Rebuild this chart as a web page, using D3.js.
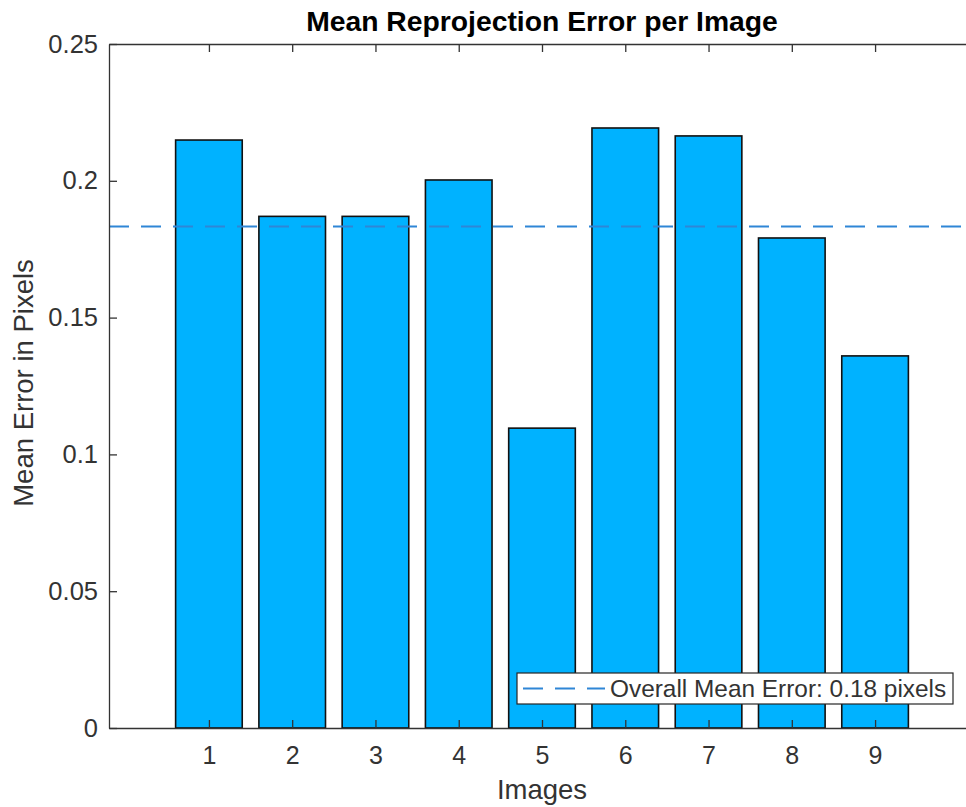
<!DOCTYPE html>
<html>
<head>
<meta charset="utf-8">
<script src="https://cdn.jsdelivr.net/npm/d3@7"></script>
<style>
  html, body { margin: 0; padding: 0; background: #fff; }
  svg { display: block; }
  text { font-family: "Liberation Sans", Arial, Helvetica, sans-serif; }
</style>
</head>
<body>
<svg id="chart" width="966" height="807"></svg>
<script>
// ---- data ----
const images = [1, 2, 3, 4, 5, 6, 7, 8, 9];
const meanErrors = [0.2149, 0.1870, 0.1870, 0.2003, 0.1096, 0.2193, 0.2164, 0.1791, 0.1360];
const overallMean = 0.1833;
const yTicks = [0, 0.05, 0.1, 0.15, 0.2, 0.25];
const yTickLabels = ["0", "0.05", "0.1", "0.15", "0.2", "0.25"];
const xDomain = [-0.2, 10.2];
const yDomain = [0, 0.25];
const titleText = "Mean Reprojection Error per Image";
const xLabelText = "Images";
const yLabelText = "Mean Error in Pixels";
const legendText = "Overall Mean Error: 0.18 pixels";

// ---- layout ----
const plotLeft = 109, plotRight = 975, plotTop = 44, plotBottom = 728;
const axisColor = "#333333";
const barColor = "#00B2FF";
const lineColor = "#2f86d6";

const svg = d3.select("#chart");
svg.append("rect").attr("width", 966).attr("height", 807).attr("fill", "#fff");

const x = d3.scaleLinear().domain(xDomain).range([plotLeft, plotRight]);
const y = d3.scaleLinear().domain(yDomain).range([plotBottom, plotTop]);
const barW = x(0.8) - x(0);

// bars
svg.append("g").selectAll("rect").data(images).join("rect")
  .attr("x", d => x(d) - barW / 2)
  .attr("y", (d, i) => y(meanErrors[i]))
  .attr("width", barW)
  .attr("height", (d, i) => y(0) - y(meanErrors[i]))
  .attr("fill", barColor)
  .attr("stroke", "#111")
  .attr("stroke-width", 1.6);

// mean line
svg.append("line")
  .attr("x1", x(xDomain[0])).attr("x2", x(xDomain[1]))
  .attr("y1", y(overallMean)).attr("y2", y(overallMean))
  .attr("stroke", lineColor).attr("stroke-width", 1.8)
  .attr("stroke-dasharray", "20 12");

// axes
function styleAxis(g) {
  g.selectAll("path.domain").attr("stroke", axisColor).attr("stroke-width", 1.3);
  g.selectAll(".tick line").attr("stroke", axisColor).attr("stroke-width", 1.3);
  g.selectAll(".tick text").attr("fill", axisColor);
}
const gx = svg.append("g").attr("transform", `translate(0,${plotBottom})`)
  .call(d3.axisBottom(x).tickValues(images).tickFormat(d3.format("d"))
    .tickSizeInner(-8).tickSizeOuter(0).tickPadding(18));
gx.selectAll("text").attr("font-size", 25);
styleAxis(gx);

const gxt = svg.append("g").attr("transform", `translate(0,${plotTop})`)
  .call(d3.axisTop(x).tickValues(images).tickFormat("")
    .tickSizeInner(-8).tickSizeOuter(0));
styleAxis(gxt);

const gy = svg.append("g").attr("transform", `translate(${plotLeft},0)`)
  .call(d3.axisLeft(y).tickValues(yTicks).tickFormat((d, i) => yTickLabels[i])
    .tickSizeInner(-8).tickSizeOuter(0).tickPadding(11));
gy.selectAll("text").attr("font-size", 25.5);
styleAxis(gy);

const gyr = svg.append("g").attr("transform", `translate(${plotRight},0)`)
  .call(d3.axisRight(y).tickValues(yTicks).tickFormat("")
    .tickSizeInner(-8).tickSizeOuter(0));
styleAxis(gyr);

// title & labels
svg.append("text")
  .attr("x", (plotLeft + plotRight) / 2).attr("y", 31)
  .attr("text-anchor", "middle")
  .attr("font-size", 28.3).attr("font-weight", "bold").attr("fill", "#000")
  .text(titleText);

svg.append("text")
  .attr("x", (plotLeft + plotRight) / 2).attr("y", 799)
  .attr("text-anchor", "middle")
  .attr("font-size", 27.5).attr("fill", axisColor)
  .text(xLabelText);

svg.append("text")
  .attr("transform", `translate(33,${(plotTop + plotBottom) / 2 - 3}) rotate(-90)`)
  .attr("text-anchor", "middle")
  .attr("font-size", 27.5).attr("fill", axisColor)
  .text(yLabelText);

// legend
const lg = svg.append("g");
lg.append("rect")
  .attr("x", 517).attr("y", 673).attr("width", 436).attr("height", 31)
  .attr("fill", "#fff").attr("stroke", "#262626").attr("stroke-width", 1.2);
lg.append("line")
  .attr("x1", 523).attr("x2", 605).attr("y1", 688.5).attr("y2", 688.5)
  .attr("stroke", lineColor).attr("stroke-width", 1.8)
  .attr("stroke-dasharray", "20 12");
lg.append("text")
  .attr("x", 610).attr("y", 697)
  .attr("font-size", 24.4).attr("fill", axisColor)
  .text(legendText);
</script>
</body>
</html>
